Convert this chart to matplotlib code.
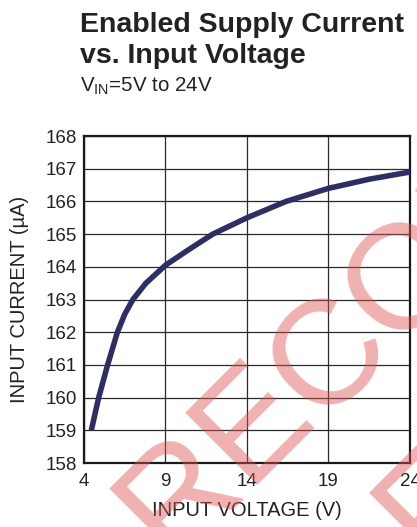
import matplotlib
matplotlib.use("Agg")
import matplotlib.pyplot as plt

plt.rcParams['font.family'] = ['Liberation Sans', 'DejaVu Sans']
plt.rcParams['mathtext.fontset'] = 'custom'
plt.rcParams['mathtext.rm'] = 'Liberation Sans'

# values
voltage = [4.45, 4.9, 5.45, 6.05, 6.5, 7.0, 7.8, 9.0, 10.5, 11.9, 14.0, 16.4, 19.0, 21.5, 24.0]
current = [159.0, 160.0, 161.0, 162.0, 162.55, 163.0, 163.5, 164.05, 164.55, 165.0, 165.5, 166.0, 166.4, 166.68, 166.9]
x_ticks = [4, 9, 14, 19, 24]
y_ticks = [158, 159, 160, 161, 162, 163, 164, 165, 166, 167, 168]

fig = plt.figure(figsize=(4.17, 5.27), dpi=100)
ax = fig.add_axes([0.2014, 0.1214, 0.7818, 0.6205])

ax.plot(voltage, current, color='#2d2f64', linewidth=4, solid_capstyle='butt', zorder=3)

ax.set_xlim(4, 24)
ax.set_ylim(158, 168)
ax.set_xticks(x_ticks)
ax.set_yticks(y_ticks)
ax.grid(True, color='#2a2a2a', linewidth=0.9)
ax.set_axisbelow(True)
ax.tick_params(axis='both', length=0, labelsize=13.5, colors='#222222')
ax.tick_params(axis='x', pad=7)
ax.tick_params(axis='y', pad=5)
for s in ax.spines.values():
    s.set_linewidth(1.6)
    s.set_color('#1a1a1a')

ax.set_xlabel('INPUT VOLTAGE (V)', fontsize=14.5, color='#222222', labelpad=8)
ax.set_ylabel('INPUT CURRENT (µA)', fontsize=14.5, color='#222222', labelpad=12)

# title block
fig.text(0.192, 0.9393, 'Enabled Supply Current', fontsize=20.5, fontweight='bold',
         color='#222222', va='baseline', ha='left')
fig.text(0.192, 0.8805, 'vs. Input Voltage', fontsize=20.5, fontweight='bold',
         color='#222222', va='baseline', ha='left')
fig.text(0.192, 0.8273, r'V$_{\rm IN}$=5V to 24V', fontsize=14.8, color='#222222',
         va='baseline', ha='left')

# red diagonal watermark
wm = dict(fontsize=107, color=(0.87, 0.32, 0.32), alpha=0.45, rotation=45,
          rotation_mode='anchor', va='baseline', zorder=10)
fig.text(0.7674, 0.1964, 'NOT RE', ha='right', **wm)
fig.text(0.7674, 0.1964, 'COMMENDED', ha='left', **wm)
fig.text(1.0388, -0.0869, 'FOR NEW DESIGNS', ha='left', **wm)

fig.savefig('out.png', dpi=100)
